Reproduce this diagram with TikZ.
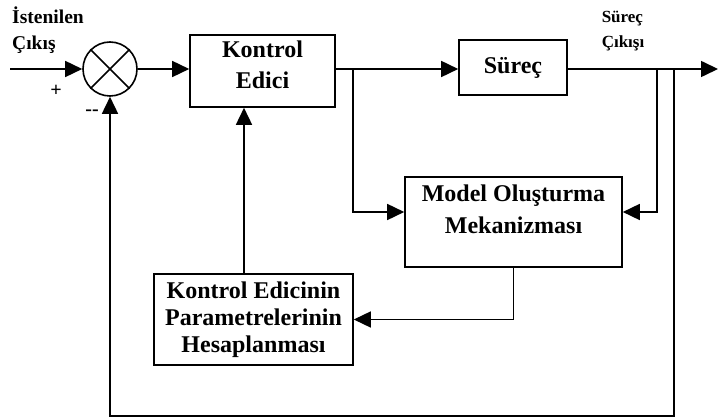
\documentclass[tikz,border=0pt]{standalone}
\usepackage{fontspec}
\setmainfont{Liberation Serif}
\usetikzlibrary{arrows.meta}
\begin{document}
\begin{tikzpicture}[x=1pt,y=-1pt,
  line width=1.6pt,
  arr/.style={-{Triangle[length=17pt,width=16pt]}},
  box/.style={draw,line width=1.6pt,inner sep=0pt},
  lbl/.style={font=\fontsize{19.5}{26}\selectfont\bfseries,align=left,inner sep=0pt},
  btxt/.style={font=\fontsize{24}{31}\selectfont\bfseries,align=center,inner sep=0pt}]
\useasboundingbox (0,0) rectangle (719,419);
% sum junction
\node[draw,circle,minimum size=54pt,inner sep=0pt,line width=1.6pt] (sum) at (110,69) {};
\draw (sum.north west) -- (sum.south east);
\draw (sum.north east) -- (sum.south west);
% boxes
\node[box,minimum width=145pt,minimum height=72pt] (kc) at (262.5,71) {};
\node[btxt] (kct) at (262.5,64.5) {Kontrol\\Edici};
\node[box,minimum width=108pt,minimum height=55pt,btxt] (sur) at (513,67.5) {Süreç};
\node[box,minimum width=217pt,minimum height=90pt] (model) at (513.5,222) {};
\node[btxt,font=\fontsize{24}{32}\selectfont\bfseries] (mt) at (513.5,209) {Model Oluşturma\\Mekanizması};
\node[box,minimum width=199pt,minimum height=91pt,btxt,font=\fontsize{24}{27}\selectfont\bfseries] (param) at (253.5,319.5) {Kontrol Edicinin\\Parametrelerinin\\Hesaplanması};
% labels
\node[lbl] (l1) at (48,30) {İstenilen\\Çıkış};
\node[lbl,font=\fontsize{17}{25}\selectfont\bfseries] (l2) at (623,31) {Süreç\\Çıkışı};
\node[font=\fontsize{20}{22}\selectfont\bfseries,inner sep=0pt] (plus) at (56,91) {+};
\node[font=\fontsize{20}{22}\selectfont\bfseries,inner sep=0pt] (minus) at (92,113) {-{}-};
% coordinates
\coordinate (in) at (10,69);
\coordinate (j1) at (353,69);
\coordinate (j2) at (657,69);
\coordinate (j3) at (674,69);
\coordinate (out) at (718,69);
\coordinate (b) at (674,416);
% connectors
\draw[arr] (in) -- (sum.west);
\draw[arr] (sum.east) -- (kc.west |- sum.east);
\draw[arr] (kc.east |- j1) -- (sur.west |- j1);
\draw[arr] (sur.east |- j1) -- (out);
\draw[arr] (j1) |- ([yshift=10pt]model.west);
\draw[arr] (j2) |- ([yshift=10pt]model.east);
\draw[arr] (model.south) |- (param.east);
\draw[arr] ([xshift=-9.5pt]param.north) -- ([xshift=-9.5pt]param.north |- kc.south);
\draw[arr] (j3) -- (b) -| (sum.south);
\end{tikzpicture}
\end{document}
